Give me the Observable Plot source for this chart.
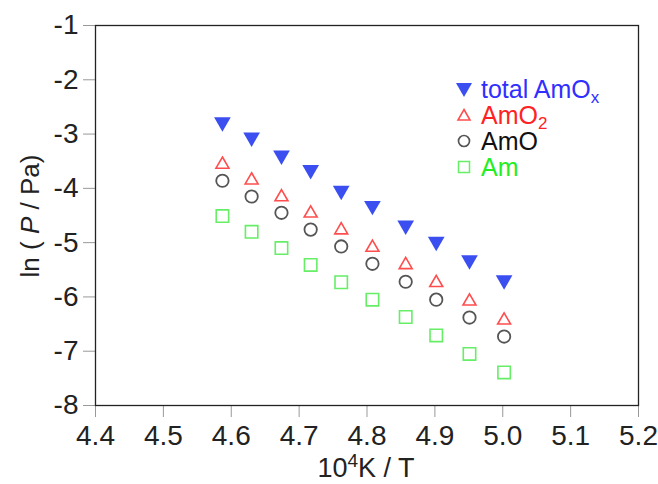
<!DOCTYPE html>
<html>
<head>
<meta charset="utf-8">
<script src="https://cdn.jsdelivr.net/npm/d3@7"></script>
<script src="https://cdn.jsdelivr.net/npm/@observablehq/plot@0.6"></script>
<style>
  html, body { margin: 0; padding: 0; background: #fff; }
  #wrap { position: relative; width: 658px; height: 484px; font-family: "Liberation Sans", Arial, sans-serif; }
  #legend { position: absolute; left: 455px; top: 76px; font-size: 25px; line-height: 26px; }
  #legend .row { display: flex; align-items: center; height: 26px; white-space: nowrap; }
  #legend svg { width: 18px; height: 18px; margin-right: 8px; overflow: visible; flex: none; }
  #legend sub { font-size: 17px; vertical-align: -5px; line-height: 0; }
</style>
</head>
<body>
<div id="wrap"></div>
<script>
// Data
const invT = [4.587, 4.630, 4.674, 4.717, 4.762, 4.808, 4.857, 4.902, 4.951, 5.002];
const totalAmOx = [-2.78, -3.06, -3.39, -3.66, -4.04, -4.32, -4.68, -4.98, -5.32, -5.69];
const AmO2 = [-3.56, -3.85, -4.16, -4.46, -4.77, -5.09, -5.41, -5.74, -6.08, -6.43];
const AmO = [-3.86, -4.15, -4.45, -4.76, -5.07, -5.39, -5.72, -6.05, -6.38, -6.73];
const Am = [-4.51, -4.80, -5.10, -5.41, -5.73, -6.05, -6.37, -6.71, -7.05, -7.39];
const xTicks = [4.4, 4.5, 4.6, 4.7, 4.8, 4.9, 5.0, 5.1, 5.2];
const yTicks = [-1, -2, -3, -4, -5, -6, -7, -8];

const toRows = (ys) => invT.map((x, i) => ({x, y: ys[i]}));

const chart = Plot.plot({
  width: 658,
  height: 484,
  marginLeft: 95,
  marginRight: 20,
  marginTop: 25,
  marginBottom: 79,
  x: {domain: [4.4, 5.2]},
  y: {domain: [-8, -1]},
  style: {fontFamily: "Liberation Sans, Arial, sans-serif", fontSize: "28px", background: "white", color: "#222", overflow: "visible"},
  marks: [
    Plot.axisX({ticks: xTicks, tickSize: 12, tickPadding: 8, tickFormat: d => d.toFixed(1), stroke: "#999", fill: "#222", fontSize: 28, label: null}),
    Plot.axisY({ticks: yTicks, tickSize: 12, tickPadding: 5, tickFormat: d => String(d), stroke: "#999", fill: "#222", fontSize: 28, label: null}),
    Plot.frame({stroke: "#222", strokeWidth: 1.3}),
    Plot.dot(toRows(Am), {x: "x", y: "y", symbol: "square", r: 7, stroke: "#66ee66", strokeWidth: 1.6, fill: "none"}),
    Plot.dot(toRows(AmO), {x: "x", y: "y", symbol: "circle", r: 6.2, stroke: "#555", strokeWidth: 1.8, fill: "none"}),
    Plot.dot(toRows(AmO2), {x: "x", y: "y", symbol: "triangle", r: 4.8, stroke: "#ff4d4d", strokeWidth: 1.6, fill: "none"}),
    Plot.dot(toRows(totalAmOx), {x: "x", y: "y", symbol: "triangle", rotate: 180, r: 6.2, fill: "#3b4ff0", stroke: "none"})
  ]
});

const svg = d3.select(chart);
// y-axis title with italic P
const yl = svg.append("text")
  .attr("transform", "translate(39,216) rotate(-90)")
  .attr("text-anchor", "middle")
  .attr("fill", "#222")
  .style("font-size", "26px");
yl.append("tspan").text("ln ( ");
yl.append("tspan").style("font-style", "italic").text("P");
yl.append("tspan").text(" / Pa)");
// x-axis title with superscript
const xl = svg.append("text")
  .attr("x", 366).attr("y", 477)
  .attr("text-anchor", "middle")
  .attr("fill", "#222")
  .style("font-size", "27px");
xl.append("tspan").text("10");
xl.append("tspan").attr("dy", -10).style("font-size", "19px").text("4");
xl.append("tspan").attr("dy", 10).text("K / T");

const wrap = document.getElementById("wrap");
wrap.appendChild(chart);

const legend = document.createElement("div");
legend.id = "legend";
legend.innerHTML = `
  <div class="row"><svg viewBox="-9 -9 18 18"><path d="M-8,-6L8,-6L0,8Z" fill="#3b4ff0"/></svg><span style="color:#2f2fff">total AmO<sub>x</sub></span></div>
  <div class="row"><svg viewBox="-9 -9 18 18"><path d="M0,-5.5L6,5L-6,5Z" fill="none" stroke="#ff4d4d" stroke-width="1.6"/></svg><span style="color:#ff2222">AmO<sub>2</sub></span></div>
  <div class="row"><svg viewBox="-9 -9 18 18"><circle r="5.5" fill="none" stroke="#555" stroke-width="1.7"/></svg><span style="color:#111">AmO</span></div>
  <div class="row"><svg viewBox="-9 -9 18 18"><rect x="-5.5" y="-5.5" width="11" height="11" fill="none" stroke="#66ee66" stroke-width="1.5"/></svg><span style="color:#22ee22">Am</span></div>
`;
wrap.appendChild(legend);
</script>
</body>
</html>
